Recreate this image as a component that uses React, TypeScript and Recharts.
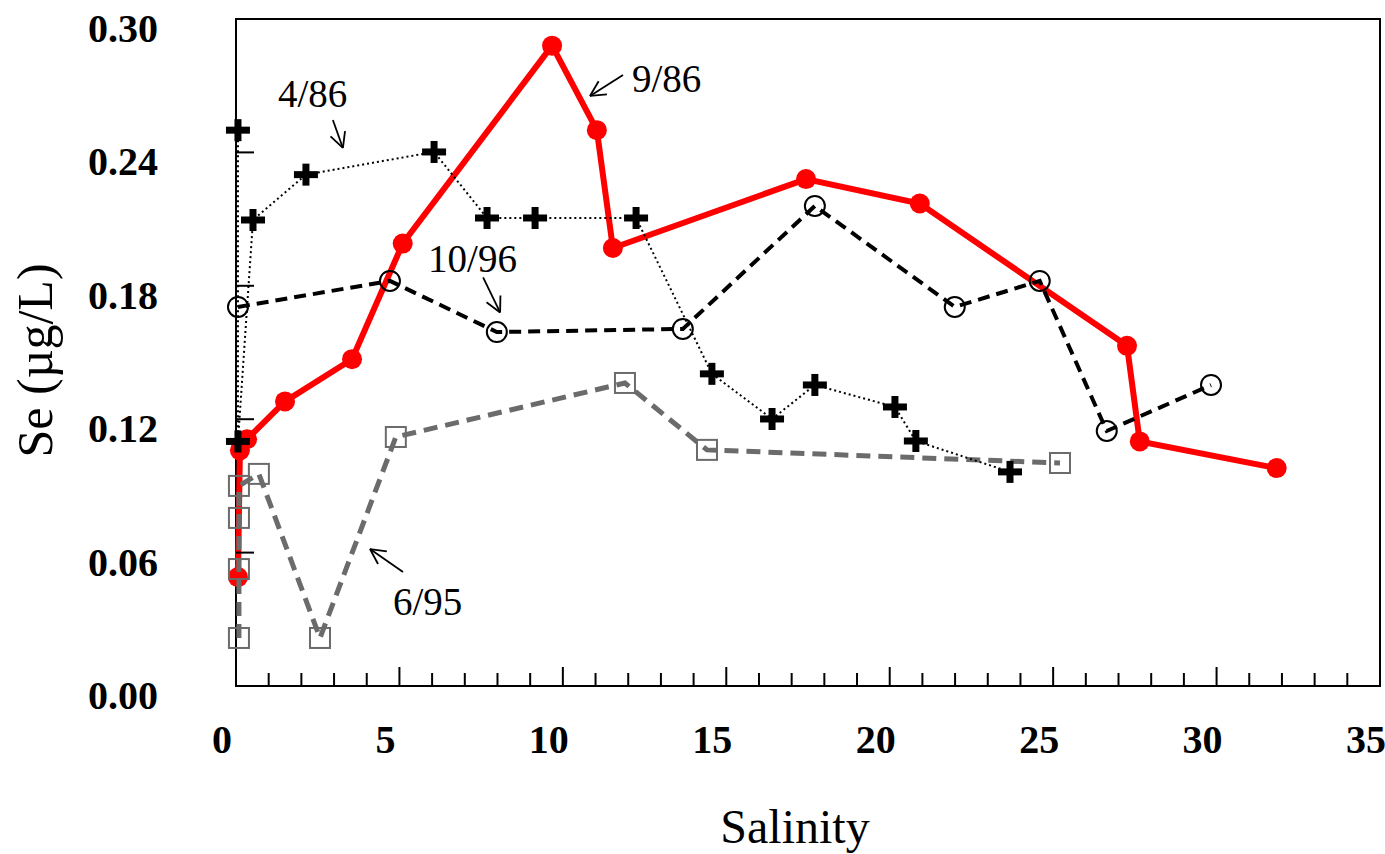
import React from 'react';
import { ScatterChart, Scatter, XAxis, YAxis, ReferenceArea, ReferenceDot } from 'recharts';

// ---- axis ticks ----
const xTicks = [0, 1, 2, 3, 4, 5, 6, 7, 8, 9, 10, 11, 12, 13, 14, 15, 16, 17, 18, 19, 20, 21, 22, 23, 24, 25, 26, 27, 28, 29, 30, 31, 32, 33, 34, 35];
const yTicks = [0, 0.06, 0.12, 0.18, 0.24, 0.3];

// ---- series: 9/86 (red, solid) ----
const sal986 = [0.06, 0.12, 0.34, 1.5, 3.55, 5.1, 9.67, 11.04, 11.53, 17.44, 20.92, 27.26, 27.65, 31.84];
const se986 = [0.049, 0.106, 0.111, 0.128, 0.147, 0.199, 0.288, 0.25, 0.197, 0.228, 0.217, 0.153, 0.11, 0.098];

// ---- series: 4/86 (black plus, dotted) ----
const sal486 = [0.06, 0.06, 0.52, 2.14, 6.06, 7.68, 9.15, 12.24, 14.56, 16.4, 17.71, 20.16, 20.8, 23.68];
const se486 = [0.25, 0.11, 0.2096, 0.23, 0.2402, 0.2105, 0.2105, 0.2105, 0.1404, 0.1201, 0.1354, 0.1255, 0.1102, 0.0963];

// ---- series: 10/96 (open circles, dashed) ----
const sal1096 = [0.06, 4.71, 7.98, 13.67, 17.71, 21.99, 24.59, 26.64, 29.83];
const se1096 = [0.1705, 0.1822, 0.1592, 0.1606, 0.2159, 0.1705, 0.1822, 0.1147, 0.1354];

// ---- series: 6/95 (grey squares, dashed) ----
const sal695 = [0.09, 0.09, 0.09, 0.09, 0.7, 2.57, 4.89, 11.9, 14.41, 25.21];
const se695 = [0.0216, 0.0526, 0.0756, 0.09, 0.0954, 0.0216, 0.112, 0.1363, 0.1062, 0.1003];

// ---- annotation labels and their arrow tips (data coords) ----
const annLabels = ['4/86', '9/86', '10/96', '6/95'];
const annTipSal = [3.27, 10.83, 8.08, 4.1];
const annTipSe = [0.242, 0.2654, 0.168, 0.0616];

// styling offsets (pixels) for annotations: arrow tail and text start relative to the tip
const annStyle = [
  { tail: [-10, -28], text: [-65, -41] },
  { tail: [33, -21], text: [42, -4] },
  { tail: [-17, -35], text: [-72, -40] },
  { tail: [33, 23], text: [23, 66] },
];

const toPoints = (xs: number[], ys: number[]) => xs.map((x, i) => ({ x, y: ys[i] }));

const d986 = toPoints(sal986, se986);
const d486 = toPoints(sal486, se486);
const d1096 = toPoints(sal1096, se1096);
const d695 = toPoints(sal695, se695);

const FONT = '"Liberation Serif", "Times New Roman", serif';

const XTick = (props: any) => {
  const { x, y, payload } = props;
  const v = payload.value;
  const major = v % 5 === 0;
  const len = major ? 19 : 13;
  return (
    <g>
      {v > 0 && v < 35 && <line x1={x} y1={y} x2={x} y2={y - len} stroke="#000" strokeWidth={2} />}
      {major && (
        <text x={x - 14} y={y + 67} textAnchor="middle" fontFamily={FONT} fontWeight="bold" fontSize={40} fill="#000">
          {v}
        </text>
      )}
    </g>
  );
};

const YTick = (props: any) => {
  const { x, y, payload } = props;
  const v = payload.value;
  const inner = v > 0.001 && v < 0.299;
  return (
    <g>
      {inner && <line x1={x} y1={y} x2={x + 18} y2={y} stroke="#000" strokeWidth={2} />}
      <text x={x - 78} y={y + 23} textAnchor="end" fontFamily={FONT} fontWeight="bold" fontSize={40} fill="#000">
        {v.toFixed(2)}
      </text>
    </g>
  );
};

const RedDot = (p: any) => <circle cx={p.cx} cy={p.cy} r={10} fill="#ff0000" />;
const PlusMark = (p: any) => (
  <g>
    <line x1={p.cx - 12} y1={p.cy} x2={p.cx + 12} y2={p.cy} stroke="#000" strokeWidth={7} />
    <line x1={p.cx} y1={p.cy - 11} x2={p.cx} y2={p.cy + 11} stroke="#000" strokeWidth={7} />
  </g>
);
const OpenCircle = (p: any) => <circle cx={p.cx} cy={p.cy} r={10} fill="none" stroke="#000" strokeWidth={2} />;
const OpenSquare = (p: any) => (
  <rect x={p.cx - 10} y={p.cy - 10} width={20} height={20} fill="none" stroke="#6b6b6b" strokeWidth={2} />
);

const makeAnnot = (i: number) => (p: any) => {
  const { cx, cy } = p;
  const st = annStyle[i];
  const tx = cx + st.tail[0];
  const ty = cy + st.tail[1];
  const ang = Math.atan2(st.tail[1], st.tail[0]);
  const L = 17;
  const spread = (27 * Math.PI) / 180;
  const b1x = cx + L * Math.cos(ang + spread);
  const b1y = cy + L * Math.sin(ang + spread);
  const b2x = cx + L * Math.cos(ang - spread);
  const b2y = cy + L * Math.sin(ang - spread);
  return (
    <g>
      <line x1={tx} y1={ty} x2={cx} y2={cy} stroke="#000" strokeWidth={1.8} />
      <line x1={b1x} y1={b1y} x2={cx} y2={cy} stroke="#000" strokeWidth={1.8} />
      <line x1={b2x} y1={b2y} x2={cx} y2={cy} stroke="#000" strokeWidth={1.8} />
      <text x={cx + st.text[0]} y={cy + st.text[1]} fontFamily={FONT} fontSize={39} fill="#000">
        {annLabels[i]}
      </text>
    </g>
  );
};

const XLabel = (p: any) => {
  const vb = p.viewBox;
  return (
    <text x={vb.x + vb.width / 2 - 13} y={vb.y + 157} textAnchor="middle" fontFamily={FONT} fontSize={48} fill="#000">
      Salinity
    </text>
  );
};

const YLabel = (p: any) => {
  const vb = p.viewBox;
  const x = vb.x - 104;
  const y = vb.y + vb.height / 2 + 8;
  return (
    <text x={x} y={y} transform={`rotate(-90 ${x} ${y})`} textAnchor="middle" fontFamily={FONT} fontSize={50} fill="#000">
      Se (µg/L)
    </text>
  );
};

export default function App() {
  return (
    <div style={{ position: 'absolute', left: 0, top: 0, width: 1385, height: 854, background: '#fff', fontFamily: FONT }}>
      <ScatterChart width={1385} height={854} margin={{ top: 19, right: 5, bottom: 108, left: 156 }}>
        <XAxis
          dataKey="x"
          type="number"
          domain={[0, 35]}
          ticks={xTicks}
          interval={0}
          tickSize={0}
          tickMargin={0}
          tickLine={false}
          height={60}
          axisLine={{ stroke: '#000', strokeWidth: 2 }}
          tick={(p: any) => <XTick {...p} />}
          label={(p: any) => <XLabel {...p} />}
        />
        <YAxis
          dataKey="y"
          type="number"
          domain={[0, 0.3]}
          ticks={yTicks}
          interval={0}
          tickSize={0}
          tickMargin={0}
          tickLine={false}
          width={80}
          axisLine={{ stroke: '#000', strokeWidth: 2 }}
          tick={(p: any) => <YTick {...p} />}
          label={(p: any) => <YLabel {...p} />}
        />
        <ReferenceArea x1={0} x2={35} y1={0} y2={0.3} fill="none" fillOpacity={0} stroke="#000" strokeWidth={2} />
        <Scatter
          name="9/86"
          data={d986}
          isAnimationActive={false}
          line={{ stroke: '#ff0000', strokeWidth: 6 }}
          shape={(p: any) => <RedDot {...p} />}
        />
        <Scatter
          name="6/95"
          data={d695}
          isAnimationActive={false}
          line={{ stroke: '#6b6b6b', strokeWidth: 5, strokeDasharray: '14 8' }}
          shape={(p: any) => <OpenSquare {...p} />}
        />
        <Scatter
          name="10/96"
          data={d1096}
          isAnimationActive={false}
          line={{ stroke: '#000', strokeWidth: 4, strokeDasharray: '12 7' }}
          shape={(p: any) => <OpenCircle {...p} />}
        />
        <Scatter
          name="4/86"
          data={d486}
          isAnimationActive={false}
          line={{ stroke: '#000', strokeWidth: 2, strokeDasharray: '2 3' }}
          shape={(p: any) => <PlusMark {...p} />}
        />
        {annLabels.map((lab, i) => (
          <ReferenceDot key={lab} x={annTipSal[i]} y={annTipSe[i]} r={0} shape={makeAnnot(i)} />
        ))}
      </ScatterChart>
    </div>
  );
}
